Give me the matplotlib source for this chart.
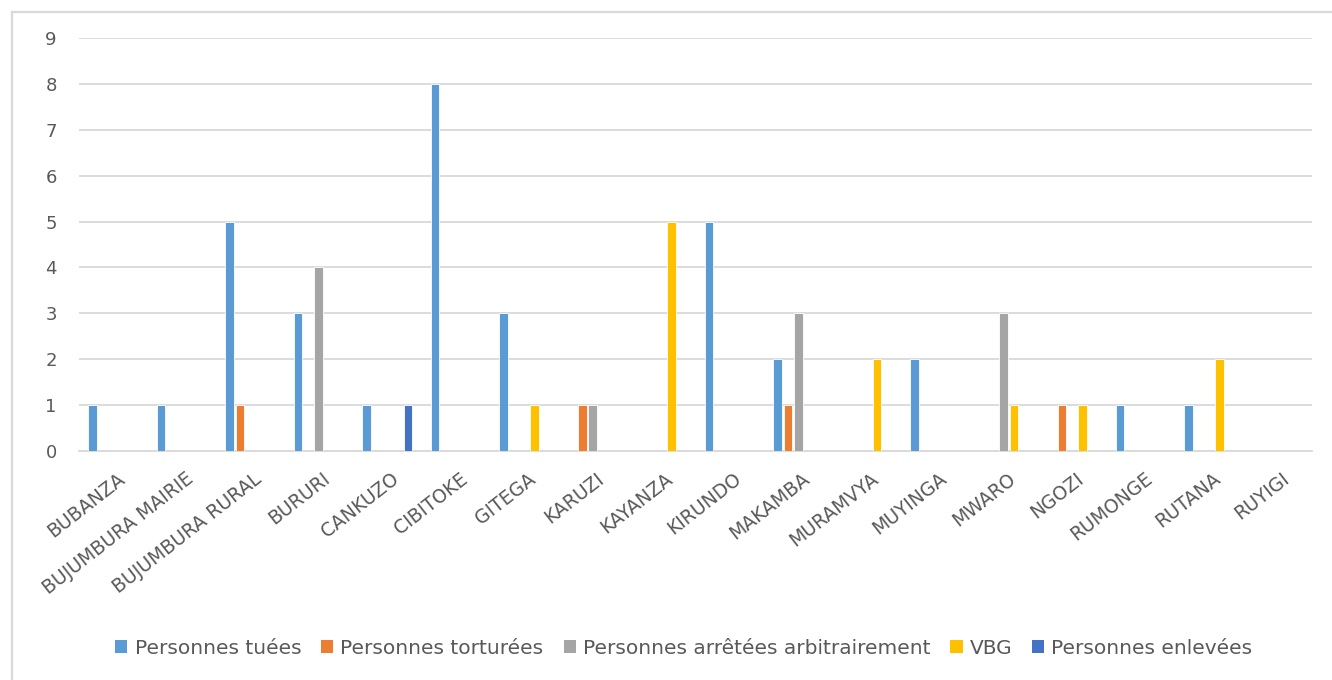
import matplotlib
matplotlib.use("Agg")
import matplotlib.pyplot as plt
from matplotlib.lines import Line2D
from matplotlib.patches import Patch
import numpy as np

plt.rcParams['font.family'] = ['DejaVu Sans']

provinces = ["BUBANZA", "BUJUMBURA MAIRIE", "BUJUMBURA RURAL", "BURURI", "CANKUZO",
             "CIBITOKE", "GITEGA", "KARUZI", "KAYANZA", "KIRUNDO", "MAKAMBA",
             "MURAMVYA", "MUYINGA", "MWARO", "NGOZI", "RUMONGE", "RUTANA", "RUYIGI"]

tuees      = [1, 1, 5, 3, 1, 8, 3, 0, 0, 5, 2, 0, 2, 0, 0, 1, 1, 0]
torturees  = [0, 0, 1, 0, 0, 0, 0, 1, 0, 0, 1, 0, 0, 0, 1, 0, 0, 0]
arretees   = [0, 0, 0, 4, 0, 0, 0, 1, 0, 0, 3, 0, 0, 3, 0, 0, 0, 0]
vbg        = [0, 0, 0, 0, 0, 0, 1, 0, 5, 0, 0, 2, 0, 1, 1, 0, 2, 0]
enlevees   = [0, 0, 0, 0, 1, 0, 0, 0, 0, 0, 0, 0, 0, 0, 0, 0, 0, 0]

series_names = ["Personnes tuées", "Personnes torturées",
                "Personnes arrêtées arbitrairement", "VBG", "Personnes enlevées"]
series_values = [tuees, torturees, arretees, vbg, enlevees]
colors = ["#5B9BD5", "#ED7D31", "#A5A5A5", "#FFC000", "#4472C4"]

W, H = 1332, 680
fig = plt.figure(figsize=(W / 100, H / 100), dpi=100)
ax = fig.add_axes([79 / W, 1 - 451 / H, (1312 - 79) / W, (451 - 38) / H])

# chart frame (top and left edges)
frame_col = "#D9D9D9"
fig.add_artist(Line2D([12 / W, 1.0], [1 - 12 / H, 1 - 12 / H], color=frame_col, lw=1.6,
                      transform=fig.transFigure))
fig.add_artist(Line2D([12 / W, 12 / W], [0.0, 1 - 12 / H], color=frame_col, lw=1.6,
                      transform=fig.transFigure))

x = np.arange(len(provinces))
slot = 0.15
bw = 0.125
for i, (vals, col) in enumerate(zip(series_values, colors)):
    ax.bar(x + (i - 2) * slot, vals, width=bw, color=col, edgecolor="white",
           linewidth=0.6, zorder=3)

ax.set_xlim(-0.5, len(provinces) - 0.5)
ax.set_ylim(0, 9)
ax.set_yticks(range(0, 10))
ax.yaxis.grid(True, color="#D9D9D9", lw=1.3, zorder=0)
ax.set_axisbelow(True)
for s in ["top", "right", "left"]:
    ax.spines[s].set_visible(False)
ax.spines["bottom"].set_color("#D9D9D9")
ax.spines["bottom"].set_linewidth(1.3)

ax.tick_params(axis="y", length=0, pad=16, labelsize=13, labelcolor="#595959")
ax.tick_params(axis="x", length=0, pad=13, labelsize=13.5, labelcolor="#595959")
ax.set_xticks(x + 0.05)
ax.set_xticklabels(provinces, rotation=38, ha="right", va="top", rotation_mode="anchor")

handles = [Patch(facecolor=c, edgecolor="none") for c in colors]
fig.legend(handles, series_names, loc="center", bbox_to_anchor=(684 / W, 1 - 648 / H),
           ncol=5, frameon=False, fontsize=14.5, labelcolor="#595959",
           handlelength=0.6, handleheight=0.6, handletextpad=0.35, columnspacing=1.0)

fig.savefig("out.png", dpi=100, facecolor="white")
